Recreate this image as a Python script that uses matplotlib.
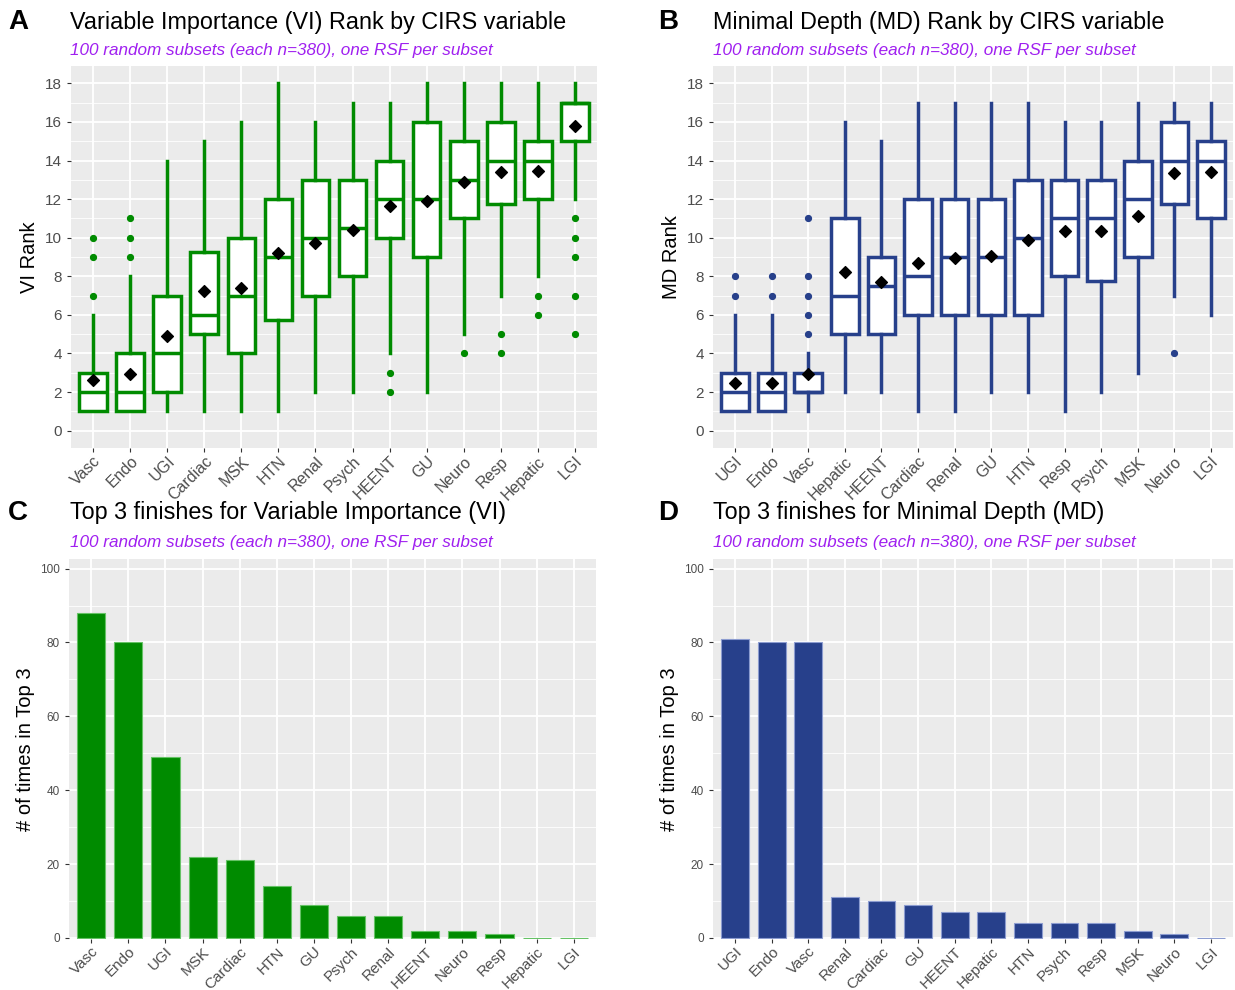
import matplotlib
matplotlib.use("Agg")
import matplotlib.pyplot as plt
from matplotlib.ticker import MultipleLocator

plt.rcParams['font.family'] = ['Liberation Sans', 'DejaVu Sans']

# ---- data ----
vi_vars = ['Vasc', 'Endo', 'UGI', 'Cardiac', 'MSK', 'HTN', 'Renal', 'Psych',
           'HEENT', 'GU', 'Neuro', 'Resp', 'Hepatic', 'LGI']
vi_q1 = [1, 1, 2, 5, 4, 5.75, 7, 8, 10, 9, 11, 11.75, 12, 15]
vi_med = [2, 2, 4, 6, 7, 9, 10, 10.5, 12, 12, 13, 14, 14, 17]
vi_q3 = [3, 4, 7, 9.25, 10, 12, 13, 13, 14, 16, 15, 16, 15, 17]
vi_lo = [1, 1, 1, 1, 1, 1, 2, 2, 4, 2, 5, 7, 8, 12]
vi_hi = [6, 8, 14, 15, 16, 18, 16, 17, 17, 18, 18, 18, 18, 18]
vi_mean = [2.62, 2.93, 4.92, 7.24, 7.4, 9.22, 9.74, 10.38, 11.63, 11.9, 12.87, 13.41, 13.47, 15.8]
vi_out = [[7, 9, 10], [9, 10, 11], [], [], [], [], [], [], [2, 3], [], [4], [4, 5], [6, 7],
          [5, 7, 9, 10, 11]]

md_vars = ['UGI', 'Endo', 'Vasc', 'Hepatic', 'HEENT', 'Cardiac', 'Renal', 'GU',
           'HTN', 'Resp', 'Psych', 'MSK', 'Neuro', 'LGI']
md_q1 = [1, 1, 2, 5, 5, 6, 6, 6, 6, 8, 7.75, 9, 11.75, 11]
md_med = [2, 2, 2, 7, 7.5, 8, 9, 9, 10, 11, 11, 12, 14, 14]
md_q3 = [3, 3, 3, 11, 9, 12, 12, 12, 13, 13, 13, 14, 16, 15]
md_lo = [1, 1, 1, 2, 2, 1, 1, 2, 2, 1, 2, 3, 7, 6]
md_hi = [6, 6, 4, 16, 15, 17, 17, 17, 17, 16, 16, 17, 17, 17]
md_mean = [2.47, 2.47, 2.96, 8.24, 7.68, 8.67, 8.96, 9.07, 9.86, 10.33, 10.37, 11.12, 13.34, 13.38]
md_out = [[7, 8], [7, 8], [5, 6, 7, 8, 11], [], [], [], [], [], [], [], [], [], [4], []]

vi_top_vars = ['Vasc', 'Endo', 'UGI', 'MSK', 'Cardiac', 'HTN', 'GU', 'Psych', 'Renal',
               'HEENT', 'Neuro', 'Resp', 'Hepatic', 'LGI']
vi_top = [88, 80, 49, 22, 21, 14, 9, 6, 6, 2, 2, 1, 0, 0]

md_top_vars = ['UGI', 'Endo', 'Vasc', 'Renal', 'Cardiac', 'GU', 'HEENT', 'Hepatic', 'HTN',
               'Psych', 'Resp', 'MSK', 'Neuro', 'LGI']
md_top = [81, 80, 80, 11, 10, 9, 7, 7, 4, 4, 4, 2, 1, 0]

green = '#008B00'
blue = '#27408B'
purple = '#A020F0'
subtitle = '100 random subsets (each n=380), one RSF per subset'

W, H = 1235, 990
fig = plt.figure(figsize=(W / 100, H / 100), dpi=100)


def px_axes(x0, y0, x1, y1):
    return fig.add_axes([x0 / W, 1 - y1 / H, (x1 - x0) / W, (y1 - y0) / H])


def gg_style(ax, tick_size, xsize):
    ax.set_facecolor('#EBEBEB')
    for s in ax.spines.values():
        s.set_visible(False)
    ax.grid(which='major', color='white', lw=1.3)
    ax.grid(which='minor', axis='y', color='white', lw=0.6)
    ax.set_axisbelow(True)
    ax.tick_params(axis='both', which='major', color='#333333', length=3,
                   labelcolor='#4D4D4D', labelsize=tick_size)
    ax.tick_params(axis='y', which='minor', length=0)
    ax.tick_params(axis='x', labelsize=xsize, pad=1)


def headings(letter, title, lx, tx, ty):
    fig.text(lx / W, 1 - ty / H, letter, fontsize=20, fontweight='bold', va='center')
    fig.text(tx / W, 1 - ty / H, title, fontsize=16.8, va='center')
    fig.text(tx / W, 1 - (ty + 29) / H, subtitle, fontsize=12.3, style='italic',
             color=purple, va='center')


def box_panel(ax, names, q1, med, q3, lo, hi, means, outs, col, ylab):
    stats = []
    for i in range(len(names)):
        stats.append(dict(q1=q1[i], med=med[i], q3=q3[i], whislo=lo[i], whishi=hi[i],
                          fliers=outs[i]))
    pos = list(range(len(names)))
    ax.bxp(stats, positions=pos, widths=0.75, showcaps=False, patch_artist=True,
           boxprops=dict(facecolor='white', edgecolor=col, lw=2.5),
           whiskerprops=dict(color=col, lw=2.5),
           medianprops=dict(color=col, lw=2.5),
           flierprops=dict(marker='o', markerfacecolor=col, markeredgecolor=col,
                           markersize=4.2))
    ax.scatter(pos, means, marker='D', color='black', s=36, zorder=5)
    ax.set_xlim(-0.6, len(names) - 0.4)
    ax.set_ylim(-0.9, 18.9)
    ax.set_yticks(range(0, 19, 2))
    ax.yaxis.set_minor_locator(MultipleLocator(1))
    ax.set_xticks(pos)
    ax.set_xticklabels(names, rotation=45, ha='right', rotation_mode='anchor')
    gg_style(ax, 11, 11.5)
    ax.set_ylabel(ylab, fontsize=14.5, labelpad=4)


def bar_panel(ax, names, vals, col, edge):
    pos = list(range(len(names)))
    ax.bar(pos, vals, width=0.76, color=col, edgecolor=edge, lw=0.8)
    ax.set_xlim(-0.6, len(names) - 0.4)
    ax.set_ylim(-0.3, 102.6)
    ax.set_yticks(range(0, 101, 20))
    ax.yaxis.set_minor_locator(MultipleLocator(10))
    ax.set_xticks(pos)
    ax.set_xticklabels(names, rotation=45, ha='right', rotation_mode='anchor')
    gg_style(ax, 8.5, 11)
    ax.set_ylabel('# of times in Top 3', fontsize=14.5, labelpad=4)


axA = px_axes(71, 66, 597, 448)
box_panel(axA, vi_vars, vi_q1, vi_med, vi_q3, vi_lo, vi_hi, vi_mean, vi_out, green, 'VI Rank')
headings('A', 'Variable Importance (VI) Rank by CIRS variable', 8, 70, 22)

axB = px_axes(713, 66, 1233, 448)
box_panel(axB, md_vars, md_q1, md_med, md_q3, md_lo, md_hi, md_mean, md_out, blue, 'MD Rank')
headings('B', 'Minimal Depth (MD) Rank by CIRS variable', 658, 713, 22)

axC = px_axes(69, 559, 596, 939)
bar_panel(axC, vi_top_vars, vi_top, green, '#66C266')
headings('C', 'Top 3 finishes for Variable Importance (VI)', 8, 70, 513)

axD = px_axes(713, 559, 1233, 939)
bar_panel(axD, md_top_vars, md_top, blue, '#8C9CD0')
headings('D', 'Top 3 finishes for Minimal Depth (MD)', 658, 713, 513)

fig.savefig('out.png', dpi=100)
